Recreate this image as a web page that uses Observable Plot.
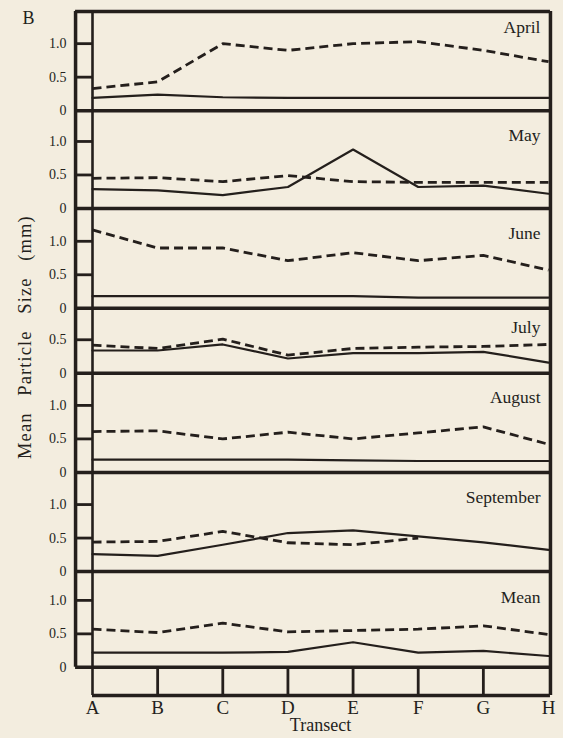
<!DOCTYPE html>
<html><head><meta charset="utf-8">
<script src="https://cdn.jsdelivr.net/npm/d3@7"></script>
<script src="https://cdn.jsdelivr.net/npm/@observablehq/plot@0.6"></script>
<style>
html,body{margin:0;padding:0;background:#f3eddf;}
#chart{width:563px;height:738px;}
svg{font-family:"Liberation Serif","DejaVu Serif",serif;}
</style></head><body><div id="chart"></div>
<script>
// ---- data ----
const transects = ["A","B","C","D","E","F","G","H"];
const panelNames = ["April","May","June","July","August","September","Mean"];
const aprilDashed     = [0.33,0.43,1.00,0.90,1.00,1.03,0.90,0.73];
const aprilSolid      = [0.19,0.24,0.20,0.19,0.19,0.19,0.19,0.19];
const mayDashed       = [0.45,0.46,0.40,0.49,0.40,0.39,0.39,0.39];
const maySolid        = [0.29,0.27,0.20,0.32,0.88,0.32,0.34,0.22];
const juneDashed      = [1.17,0.90,0.90,0.71,0.83,0.71,0.79,0.57];
const juneSolid       = [0.18,0.18,0.18,0.18,0.18,0.16,0.16,0.16];
const julyDashed      = [0.42,0.37,0.51,0.27,0.37,0.39,0.40,0.43];
const julySolid       = [0.34,0.34,0.43,0.22,0.30,0.30,0.32,0.16];
const augustDashed    = [0.61,0.62,0.50,0.60,0.50,0.59,0.68,0.42];
const augustSolid     = [0.19,0.19,0.19,0.19,0.18,0.17,0.17,0.17];
const septemberDashed = [0.44,0.45,0.60,0.43,0.40,0.50,null,null];
const septemberSolid  = [0.26,0.235,0.40,0.575,0.615,0.525,0.435,0.325];
const meanDashed      = [0.57,0.52,0.66,0.53,0.55,0.57,0.62,0.49];
const meanSolid       = [0.22,0.22,0.22,0.23,0.375,0.22,0.245,0.17];
const tickValues = [0, 0.5, 1.0];
const tickLabels = ["0", "0.5", "1.0"];

// ---- layout ----
const panelSpan   = [1.48,1.46,1.49,0.97,1.48,1.48,1.43]; // visible value range per panel
const labelOffset = [16,25,25,19,24,25,26];
const stripBottom = -0.42;
const leftStrip = -0.26;
const ink = "#241f1c";

const base = new Array(7);
base[6] = 0;
for (let k = 5; k >= 0; k--) base[k] = base[k+1] + panelSpan[k+1];
const yTop = base[0] + panelSpan[0];

const dashedSets = [aprilDashed, mayDashed, juneDashed, julyDashed, augustDashed, septemberDashed, meanDashed];
const solidSets  = [aprilSolid, maySolid, juneSolid, julySolid, augustSolid, septemberSolid, meanSolid];

const rows = [];
panelNames.forEach((p, k) => {
  dashedSets[k].forEach((v, i) => { if (v != null) rows.push({panel: p, style: "dashed", i, v, y: base[k] + v}); });
  solidSets[k].forEach((v, i) => { if (v != null) rows.push({panel: p, style: "solid", i, v, y: base[k] + v}); });
});

const ticks = [];
panelNames.forEach((p, k) => {
  tickValues.forEach((t, j) => { if (t < panelSpan[k]) ticks.push({panel: p, t, label: tickLabels[j], y: base[k] + t}); });
});

const frameLines = [...base, yTop];
const tIdx = transects.map((_, i) => i);

const marks = [
  Plot.ruleY(frameLines, {x1: leftStrip, x2: 7.03, stroke: ink, strokeWidth: 3.5}),
  Plot.ruleX([leftStrip], {y1: 0, y2: yTop, stroke: ink, strokeWidth: 3.5}),
  Plot.ruleX([0], {y1: stripBottom, y2: yTop, stroke: ink, strokeWidth: 2.6}),
  Plot.ruleX([7.03], {y1: stripBottom, y2: yTop, stroke: ink, strokeWidth: 3.5}),
  Plot.ruleY([stripBottom], {x1: 0, x2: 7.03, stroke: ink, strokeWidth: 3.5}),
  Plot.ruleX(tIdx.filter(i => i > 0 && i < 7), {y1: stripBottom, y2: 0, stroke: ink, strokeWidth: 2.8}),
  Plot.ruleY(ticks.filter(d => d.t > 0), {y: "y", x1: leftStrip, x2: 0, stroke: ink, strokeWidth: 2.8}),
  Plot.text(ticks, {x: -0.40, y: "y", text: "label", textAnchor: "end", fontSize: 14, fill: ink, lineAnchor: "middle"}),
  Plot.line(rows.filter(d => d.style === "dashed"), {x: "i", y: "y", z: "panel", stroke: ink, strokeWidth: 2.8, strokeDasharray: "9,5", strokeLinecap: "butt"}),
  Plot.line(rows.filter(d => d.style === "solid"), {x: "i", y: "y", z: "panel", stroke: ink, strokeWidth: 2.2}),
  Plot.text(tIdx, {x: d => d, y: stripBottom, dy: 12, text: d => transects[d], fontSize: 19, fill: ink, lineAnchor: "middle"}),
  Plot.text(["Transect"], {x: 3.5, y: stripBottom, dy: 30, fontSize: 18, fill: ink, lineAnchor: "middle"}),
  Plot.text(["Mean Particle Size (mm)"], {x: -1.03, y: 4.93, rotate: -90, fontSize: 18.5, fill: ink, lineAnchor: "middle"}),
  Plot.text(["B"], {frameAnchor: "top-left", dx: -70, dy: 7, fontSize: 18, fill: ink, lineAnchor: "middle"}),
  ...panelNames.map((p, k) => Plot.text([p], {x: 7, y: base[k] + panelSpan[k], dx: -8, dy: labelOffset[k], textAnchor: "end", fontSize: 17.5, fill: ink, lineAnchor: "middle"}))
];

const chart = Plot.plot({
  width: 563, height: 738,
  marginLeft: 92, marginRight: 15, marginTop: 11, marginBottom: 43,
  style: {background: "#f3eddf", fontFamily: "'Liberation Serif', 'DejaVu Serif', serif"},
  x: {domain: [0, 7], axis: null},
  y: {domain: [stripBottom, yTop], axis: null},
  marks
});
document.getElementById("chart").appendChild(chart);
d3.select(chart).selectAll("text").filter(function(){ return this.textContent === "Mean Particle Size (mm)"; })
  .style("letter-spacing", "1.1px").style("word-spacing", "11px");
</script></body></html>
